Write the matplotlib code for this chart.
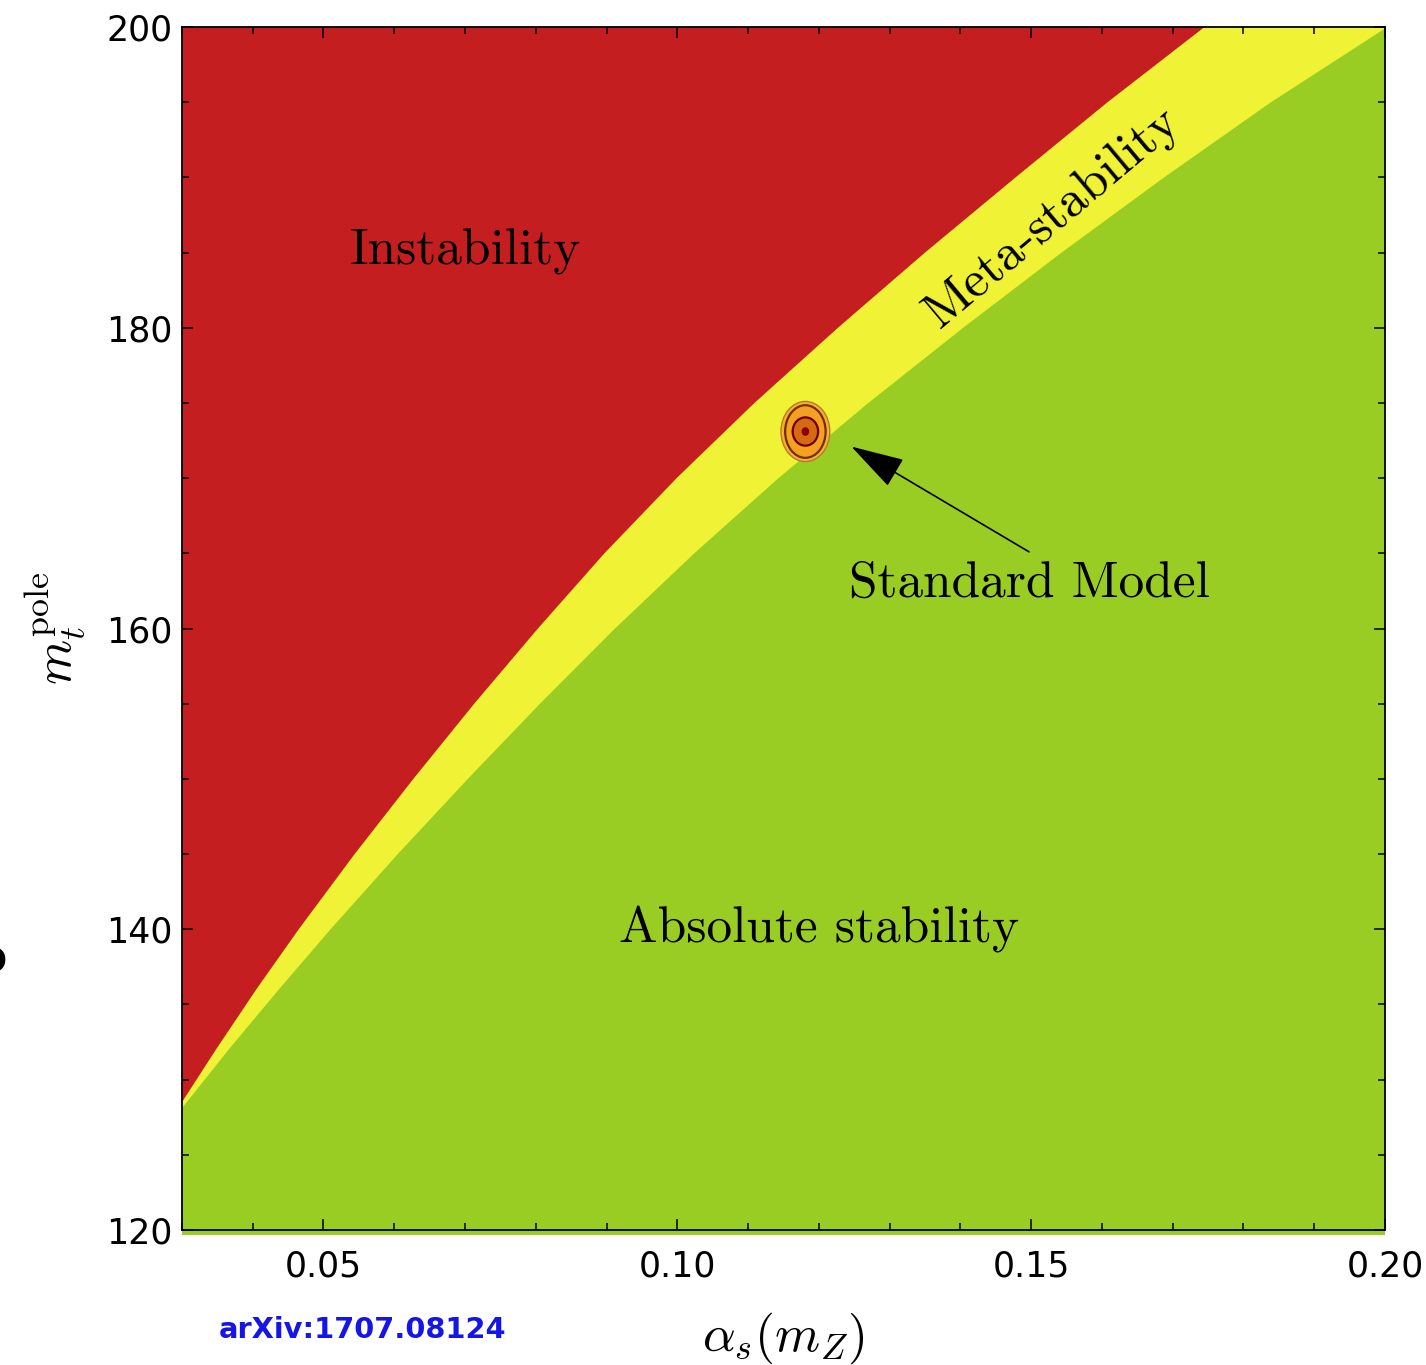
import matplotlib
matplotlib.use("Agg")
import matplotlib.pyplot as plt
from matplotlib.patches import Ellipse, Rectangle
import numpy as np

plt.rcParams['mathtext.fontset'] = 'cm'

# boundary between instability and meta-stability (alpha_s, m_t)
inst_mt = [128.5, 132, 136, 140, 145, 150, 155, 160,
           165, 170, 175, 180, 185, 190, 195, 200]
inst_alpha = [0.0300, 0.0348, 0.0405, 0.0465, 0.0544, 0.0627, 0.0713, 0.0803,
              0.0897, 0.0999, 0.1109, 0.1227, 0.1350, 0.1478, 0.1608, 0.1745]

# boundary between meta-stability and absolute stability
stab_mt = [128.1, 132, 136, 140, 145, 150, 155, 160,
           165, 170, 175, 180, 185, 190, 195, 199.9]
stab_alpha = [0.0300, 0.0366, 0.0437, 0.0510, 0.0605, 0.0704, 0.0806, 0.0912,
              0.1024, 0.1143, 0.1270, 0.1404, 0.1543, 0.1688, 0.1839, 0.2000]

# SM measurement and its contours (half widths)
sm_alpha, sm_mt = 0.1181, 173.1
sig_alpha = [0.00345, 0.00286, 0.0018]
sig_mt = [2.0, 1.75, 0.94]

xticks = [0.05, 0.10, 0.15, 0.20]
yticks = [120, 140, 160, 180, 200]

RED = '#C41E20'
YELLOW = '#EFF235'
GREEN = '#9ACD24'

fig = plt.figure(figsize=(14.26, 13.65), dpi=100)
ax = fig.add_axes([0.1276, 0.0989, 0.8436, 0.8813])
ax.set_xlim(0.03, 0.20)
ax.set_ylim(120, 200)

# regions
ax.set_facecolor(YELLOW)
ax.fill(inst_alpha + [0.03], inst_mt + [200], color=RED, lw=0, zorder=1)
ax.fill(stab_alpha + [0.20, 0.03], stab_mt + [120, 120], color=GREEN, lw=0, zorder=1)
ax.add_patch(Rectangle((0, -0.004), 1, 0.004, transform=ax.transAxes,
                       color=GREEN, lw=0, clip_on=False, zorder=0))

# SM ellipses
fills = ['#F3B32C', '#F4A020', '#D66A12']
edges = ['#B87A2A', '#7A2A10', '#6B0000']
lws = [1.0, 1.6, 1.6]
for sa, sm, fc, ec, lw in zip(sig_alpha, sig_mt, fills, edges, lws):
    ax.add_patch(Ellipse((sm_alpha, sm_mt), 2 * sa, 2 * sm,
                         fc=fc, ec=ec, lw=lw, zorder=3))
ax.add_patch(Ellipse((sm_alpha, sm_mt), 2 * 0.00054, 2 * 0.29,
                     fc='#8E0000', ec='none', zorder=4))

# labels in the regions
tkw = dict(fontfamily='cmr10', fontsize=37, ha='center', zorder=5)
ax.text(0.0700, 184.2, 'Instability', va='baseline', **tkw)
ax.text(0.1200, 139.1, 'Absolute stability', va='baseline', **tkw)
ax.text(0.1497, 162.1, 'Standard Model', va='baseline', **tkw)
ax.text(0.1530, 187.3, 'Meta-stability', va='center', rotation=40,
        rotation_mode='anchor', **tkw)

ax.annotate('', xy=(0.1246, 172.1), xytext=(0.1497, 165.1),
            arrowprops=dict(arrowstyle='-|>,head_length=0.85,head_width=0.25',
                            mutation_scale=40, lw=1.2, color='k',
                            shrinkA=0, shrinkB=0), zorder=5)

# axes styling
ax.set_xticks(xticks)
ax.set_xticklabels(['%.2f' % v for v in xticks])
ax.set_yticks(yticks)
ax.set_xticks(np.arange(0.03, 0.2001, 0.01), minor=True)
ax.set_yticks(np.arange(120, 201, 5), minor=True)
ax.tick_params(which='both', direction='in', top=True, right=True,
               width=1.1, labelsize=25)
ax.tick_params(which='major', length=8)
ax.tick_params(which='minor', length=5)
ax.tick_params(axis='x', pad=14)
ax.tick_params(axis='y', pad=7)
for s in ax.spines.values():
    s.set_linewidth(1.3)
    s.set_zorder(6)

ax.set_xlabel(r'$\alpha_s(m_Z)$', fontsize=37)
ax.xaxis.set_label_coords(0.5, -0.090)
ax.xaxis.label.set_verticalalignment('center')
ax.set_ylabel(r'$m_t^{\rm pole}$', fontsize=37)
ax.yaxis.set_label_coords(-0.106, 0.50)
ax.yaxis.label.set_verticalalignment('center')

fig.text(363 / 1426, 1 - 1330 / 1365, 'arXiv:1707.08124', color='#1515E8',
         fontsize=20.8, fontweight='bold', ha='center', va='center')
fig.text(-25 / 1426, 1 - 960 / 1365, 'o', fontsize=34, fontweight='bold',
         ha='left', va='center')

fig.savefig('out.png', dpi=100)
